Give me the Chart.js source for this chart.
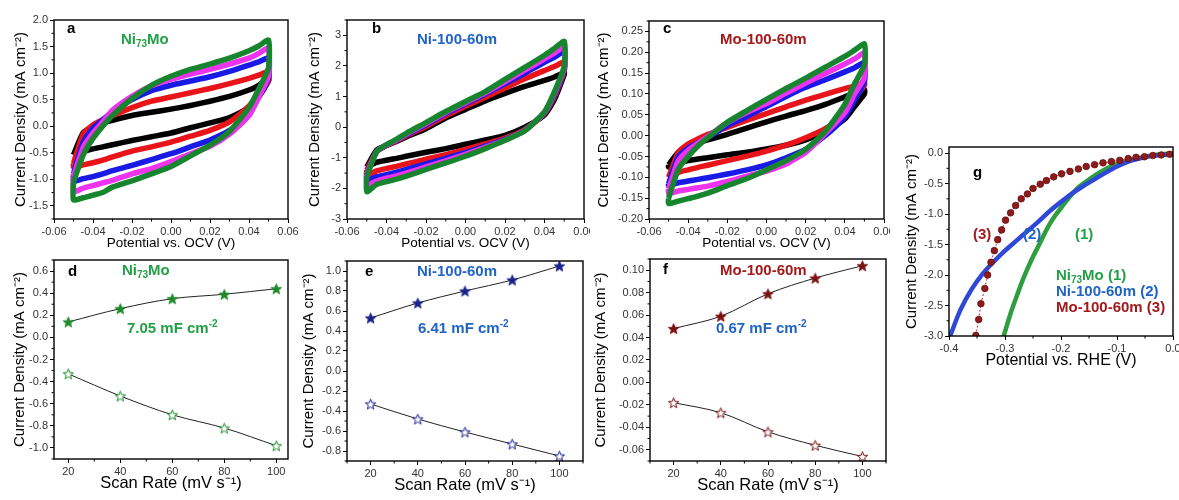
<!DOCTYPE html>
<html>
<head>
<meta charset="utf-8">
<script src="https://cdn.jsdelivr.net/npm/chart.js@4.4.0/dist/chart.umd.min.js"></script>
<style>
  body { margin: 0; background: #fff; width: 1179px; height: 500px; overflow: hidden; position: relative; }
  .panel { position: absolute; }
</style>
</head>
<body>
<div class="panel" style="left:0;top:0;width:300px;height:252px"><canvas id="chartA"></canvas></div>
<div class="panel" style="left:300px;top:0;width:290px;height:252px"><canvas id="chartB"></canvas></div>
<div class="panel" style="left:590px;top:0;width:300px;height:252px"><canvas id="chartC"></canvas></div>
<div class="panel" style="left:0;top:250px;width:300px;height:250px"><canvas id="chartD"></canvas></div>
<div class="panel" style="left:300px;top:250px;width:290px;height:250px"><canvas id="chartE"></canvas></div>
<div class="panel" style="left:590px;top:250px;width:303px;height:250px"><canvas id="chartF"></canvas></div>
<div class="panel" style="left:900px;top:130px;width:279px;height:245px"><canvas id="chartG"></canvas></div>
<script>
const FONT = "'Liberation Sans', Arial, sans-serif";

// --- CV data (a-c): potential grid, anodic branch low->high, cathodic branch high->low ---
const cvPotential = [-0.05, -0.045, -0.04, -0.035, -0.03, -0.02, -0.01, 0, 0.01, 0.02, 0.03, 0.04, 0.045, 0.05];
const scanRates = [20, 40, 60, 80, 100];
const cvColors = ['#000000', '#e8141a', '#1a1ae6', '#ee33ee', '#17852d'];

// panel a: Ni73Mo
const niMoAnodic = [
  [-0.54, -0.12, -0.01, 0.06, 0.11, 0.2, 0.26, 0.32, 0.39, 0.47, 0.56, 0.68, 0.77, 0.9],
  [-0.7, -0.15, 0.02, 0.12, 0.2, 0.35, 0.47, 0.55, 0.63, 0.71, 0.8, 0.9, 0.96, 1.03],
  [-0.9, -0.3, -0.04, 0.12, 0.27, 0.5, 0.67, 0.77, 0.85, 0.93, 1.03, 1.15, 1.21, 1.28],
  [-0.95, -0.4, -0.13, 0.08, 0.3, 0.56, 0.76, 0.88, 0.98, 1.07, 1.17, 1.28, 1.37, 1.47],
  [-1.05, -0.54, -0.23, 0.0, 0.2, 0.52, 0.77, 0.94, 1.07, 1.17, 1.28, 1.42, 1.51, 1.62]
];
const niMoCathodic = [
  [0.85, 0.55, 0.35, 0.16, 0.06, -0.03, -0.13, -0.2, -0.27, -0.35, -0.39, -0.43, -0.48, -0.54],
  [0.85, 0.6, 0.38, 0.08, -0.08, -0.19, -0.3, -0.39, -0.47, -0.58, -0.64, -0.69, -0.73, -0.77],
  [0.9, 0.55, 0.22, -0.08, -0.26, -0.39, -0.52, -0.63, -0.74, -0.84, -0.9, -0.95, -0.99, -1.04],
  [0.95, 0.55, 0.2, -0.15, -0.38, -0.52, -0.67, -0.8, -0.9, -1.02, -1.07, -1.12, -1.17, -1.23],
  [1.1, 0.7, 0.35, -0.1, -0.36, -0.56, -0.76, -0.9, -1.03, -1.15, -1.25, -1.3, -1.35, -1.39]
];

// panel b: Ni-100-60m
const niAnodic = [
  [-1.3, -0.75, -0.6, -0.47, -0.32, -0.05, 0.3, 0.58, 0.86, 1.1, 1.33, 1.53, 1.64, 1.78],
  [-1.4, -0.8, -0.6, -0.45, -0.28, 0.02, 0.37, 0.68, 0.98, 1.28, 1.58, 1.85, 1.98, 2.13],
  [-1.5, -0.8, -0.59, -0.43, -0.25, 0.08, 0.44, 0.76, 1.08, 1.42, 1.76, 2.12, 2.28, 2.46],
  [-1.55, -0.8, -0.58, -0.42, -0.23, 0.12, 0.48, 0.8, 1.12, 1.49, 1.86, 2.23, 2.42, 2.62],
  [-1.6, -0.8, -0.57, -0.4, -0.2, 0.15, 0.51, 0.84, 1.16, 1.56, 1.95, 2.35, 2.57, 2.8]
];
const niCathodic = [
  [1.72, 0.9, 0.4, 0.0, -0.27, -0.42, -0.56, -0.7, -0.82, -0.95, -1.02, -1.08, -1.15, -1.3],
  [1.85, 1.0, 0.45, -0.08, -0.36, -0.55, -0.73, -0.9, -1.05, -1.2, -1.28, -1.35, -1.43, -1.56],
  [1.9, 1.05, 0.47, -0.1, -0.4, -0.62, -0.83, -1.02, -1.2, -1.38, -1.47, -1.55, -1.62, -1.73],
  [1.95, 1.1, 0.48, -0.11, -0.42, -0.66, -0.89, -1.1, -1.3, -1.5, -1.59, -1.67, -1.76, -1.89],
  [2.0, 1.15, 0.5, -0.12, -0.43, -0.7, -0.95, -1.17, -1.38, -1.6, -1.7, -1.78, -1.87, -2.11]
];

// panel c: Mo-100-60m
const moAnodic = [
  [-0.07, -0.04, -0.025, -0.017, -0.01, 0.003, 0.018, 0.033, 0.047, 0.06, 0.075, 0.093, 0.102, 0.11],
  [-0.1, -0.04, -0.02, -0.008, 0.003, 0.02, 0.037, 0.053, 0.069, 0.085, 0.099, 0.113, 0.119, 0.127],
  [-0.115, -0.05, -0.03, -0.017, -0.005, 0.024, 0.046, 0.07, 0.094, 0.116, 0.134, 0.153, 0.163, 0.175],
  [-0.128, -0.06, -0.035, -0.018, -0.002, 0.031, 0.056, 0.077, 0.102, 0.126, 0.149, 0.172, 0.184, 0.198],
  [-0.15, -0.08, -0.05, -0.025, -0.005, 0.032, 0.06, 0.087, 0.113, 0.138, 0.164, 0.19, 0.205, 0.22]
];
const moCathodic = [
  [0.1, 0.07, 0.04, 0.01, -0.01, -0.023, -0.032, -0.04, -0.046, -0.053, -0.056, -0.06, -0.064, -0.075],
  [0.12, 0.09, 0.05, 0.017, -0.005, -0.023, -0.037, -0.049, -0.06, -0.071, -0.076, -0.082, -0.088, -0.1],
  [0.13, 0.085, 0.045, 0.0, -0.033, -0.053, -0.07, -0.082, -0.092, -0.101, -0.105, -0.109, -0.113, -0.12],
  [0.14, 0.1, 0.055, 0.005, -0.04, -0.068, -0.085, -0.097, -0.11, -0.121, -0.125, -0.129, -0.133, -0.138],
  [0.17, 0.125, 0.075, 0.01, -0.033, -0.06, -0.082, -0.103, -0.12, -0.138, -0.145, -0.151, -0.157, -0.163]
];

// --- scan rate plots (d-f) ---
const scanRateAxis = [20, 40, 60, 80, 100];
const niMoAnodicPeak = [0.14, 0.26, 0.35, 0.39, 0.44];
const niMoCathodicPeak = [-0.33, -0.53, -0.70, -0.82, -0.98];
const niAnodicPeak = [0.53, 0.68, 0.80, 0.91, 1.05];
const niCathodicPeak = [-0.33, -0.48, -0.61, -0.73, -0.85];
const moAnodicPeak = [0.048, 0.059, 0.079, 0.093, 0.104];
const moCathodicPeak = [-0.018, -0.027, -0.044, -0.056, -0.066];

// --- LSV (g) ---
const lsvNiMoPotential = [-0.303, -0.29, -0.28, -0.27, -0.26, -0.25, -0.24, -0.23, -0.22, -0.21, -0.20, -0.19, -0.18, -0.17, -0.16, -0.14, -0.12, -0.10, -0.08, -0.06, -0.04, -0.02, 0];
const lsvNiMoCurrent = [-3.02, -2.63, -2.37, -2.12, -1.9, -1.7, -1.52, -1.33, -1.16, -1.02, -0.9, -0.78, -0.67, -0.57, -0.5, -0.37, -0.26, -0.18, -0.12, -0.08, -0.045, -0.02, -0.01];
const lsvNiPotential = [-0.398, -0.38, -0.36, -0.34, -0.32, -0.30, -0.28, -0.26, -0.24, -0.22, -0.20, -0.18, -0.16, -0.14, -0.12, -0.10, -0.08, -0.06, -0.04, -0.02, 0];
const lsvNiCurrent = [-3.0, -2.58, -2.24, -1.98, -1.78, -1.6, -1.44, -1.28, -1.12, -0.95, -0.8, -0.66, -0.54, -0.43, -0.32, -0.22, -0.14, -0.09, -0.05, -0.03, -0.02];
const lsvMoPotential = [-0.352, -0.347, -0.343, -0.336, -0.331, -0.325, -0.319, -0.313, -0.306, -0.299, -0.29, -0.281, -0.271, -0.26, -0.25, -0.237, -0.226, -0.213, -0.199, -0.184, -0.169, -0.155, -0.14, -0.125, -0.11, -0.095, -0.08, -0.066, -0.051, -0.036, -0.021, -0.006];
const lsvMoCurrent = [-2.99, -2.73, -2.47, -2.22, -2.0, -1.79, -1.6, -1.42, -1.26, -1.1, -0.98, -0.86, -0.75, -0.67, -0.58, -0.51, -0.45, -0.39, -0.34, -0.3, -0.26, -0.22, -0.19, -0.16, -0.14, -0.12, -0.09, -0.07, -0.06, -0.04, -0.03, -0.02];

// tick values
const cvXTicks = [-0.06, -0.04, -0.02, 0, 0.02, 0.04, 0.06];
const aYTicks = [-1.5, -1.0, -0.5, 0, 0.5, 1.0, 1.5, 2.0];
const bYTicks = [-3, -2, -1, 0, 1, 2, 3];
const cYTicks = [-0.2, -0.15, -0.1, -0.05, 0, 0.05, 0.1, 0.15, 0.2, 0.25];
const dYTicks = [-1.0, -0.8, -0.6, -0.4, -0.2, 0, 0.2, 0.4, 0.6];
const eYTicks = [-0.8, -0.6, -0.4, -0.2, 0, 0.2, 0.4, 0.6, 0.8, 1.0];
const fYTicks = [-0.06, -0.04, -0.02, 0, 0.02, 0.04, 0.06, 0.08, 0.10];
const gXTicks = [-0.4, -0.3, -0.2, -0.1, 0];
const gYTicks = [-3.0, -2.5, -2.0, -1.5, -1.0, -0.5, 0];

const GREEN = '#23a047', BLUE = '#1f63c6', DARKRED = '#a3191c';
const Y_TITLE = 'Current Density (mA cm\u207B\u00B2)';

// text drawn on top of each panel (canvas coords), parts may be sub/superscript
const panelNotes = {
  chartA: [
    { parts: [{ t: 'a' }], x: 67, y: 33, color: '#000' },
    { parts: [{ t: 'Ni' }, { t: '73', sub: true }, { t: 'Mo' }], x: 121, y: 44, color: GREEN }
  ],
  chartB: [
    { parts: [{ t: 'b' }], x: 72, y: 33, color: '#000' },
    { parts: [{ t: 'Ni-100-60m' }], x: 117, y: 44, color: BLUE }
  ],
  chartC: [
    { parts: [{ t: 'c' }], x: 73, y: 33, color: '#000' },
    { parts: [{ t: 'Mo-100-60m' }], x: 130, y: 44, color: DARKRED }
  ],
  chartD: [
    { parts: [{ t: 'd' }], x: 68, y: 26, color: '#000' },
    { parts: [{ t: 'Ni' }, { t: '73', sub: true }, { t: 'Mo' }], x: 122, y: 25, color: GREEN },
    { parts: [{ t: '7.05 mF cm' }, { t: '-2', sup: true }], x: 127, y: 83, color: GREEN }
  ],
  chartE: [
    { parts: [{ t: 'e' }], x: 65, y: 26, color: '#000' },
    { parts: [{ t: 'Ni-100-60m' }], x: 117, y: 26, color: BLUE },
    { parts: [{ t: '6.41 mF cm' }, { t: '-2', sup: true }], x: 118, y: 83, color: BLUE }
  ],
  chartF: [
    { parts: [{ t: 'f' }], x: 73, y: 24, color: '#000' },
    { parts: [{ t: 'Mo-100-60m' }], x: 130, y: 25, color: DARKRED },
    { parts: [{ t: '0.67 mF cm' }, { t: '-2', sup: true }], x: 126, y: 83, color: BLUE }
  ],
  chartG: [
    { parts: [{ t: 'g' }], x: 73, y: 47, color: '#000' },
    { parts: [{ t: '(3)' }], x: 73, y: 109, color: DARKRED },
    { parts: [{ t: '(2)' }], x: 123, y: 109, color: BLUE },
    { parts: [{ t: '(1)' }], x: 175, y: 109, color: GREEN },
    { parts: [{ t: 'Ni' }, { t: '73', sub: true }, { t: 'Mo (1)' }], x: 156, y: 150, color: GREEN },
    { parts: [{ t: 'Ni-100-60m (2)' }], x: 156, y: 166, color: BLUE },
    { parts: [{ t: 'Mo-100-60m (3)' }], x: 156, y: 182, color: DARKRED }
  ]
};

function drawRich(ctx, note) {
  let x = note.x;
  ctx.fillStyle = note.color;
  ctx.textBaseline = 'alphabetic';
  ctx.textAlign = 'left';
  note.parts.forEach(p => {
    const small = p.sub || p.sup;
    ctx.font = `bold ${small ? 10 : 15}px ${FONT}`;
    const dy = p.sub ? 3 : (p.sup ? -6 : 0);
    ctx.fillText(p.t, x, note.y + dy);
    x += ctx.measureText(p.t).width;
  });
}

// frame, minor ticks and text notes
const decorPlugin = {
  id: 'decor',
  afterDraw(chart) {
    const ctx = chart.ctx;
    const a = chart.chartArea;
    ctx.save();
    ctx.strokeStyle = '#000';
    ctx.lineWidth = 1;
    Object.values(chart.scales).forEach(s => {
      const t = s.ticks.map(k => k.value);
      if (t.length < 2) return;
      const step = t[1] - t[0];
      for (let i = -1; i < t.length; i++) {
        const v = t[0] + step * (i + 0.5);
        if (v < s.min - 1e-9 || v > s.max + 1e-9) continue;
        const p = s.getPixelForValue(v);
        ctx.beginPath();
        if (s.isHorizontal()) { ctx.moveTo(p, a.bottom); ctx.lineTo(p, a.bottom + 2.5); }
        else { ctx.moveTo(a.left, p); ctx.lineTo(a.left - 2.5, p); }
        ctx.stroke();
      }
    });
    ctx.lineWidth = 1.4;
    ctx.strokeRect(a.left, a.top, a.right - a.left, a.bottom - a.top);
    (panelNotes[chart.canvas.id] || []).forEach(n => drawRich(ctx, n));
    ctx.restore();
  }
};
Chart.register(decorPlugin);

function makeAxis(cfg) {
  const horizontal = cfg.pos === 'bottom';
  return {
    type: 'linear',
    position: cfg.pos,
    min: cfg.min,
    max: cfg.max,
    afterBuildTicks: s => { s.ticks = cfg.ticks.map(v => ({ value: v })); },
    afterFit: s => {
      if (horizontal) { s.height = cfg.size; s.paddingLeft = 0; s.paddingRight = 0; }
      else { s.width = cfg.size; s.paddingTop = 0; s.paddingBottom = 0; }
    },
    ticks: {
      autoSkip: false, maxRotation: 0, padding: 2, color: '#333',
      font: { family: FONT, size: 11 },
      callback: v => Number(v).toFixed(cfg.dec)
    },
    grid: { drawOnChartArea: false, tickLength: 4, color: '#000', lineWidth: 1 },
    border: { display: false },
    title: { display: true, text: cfg.title, color: '#000', font: { family: FONT, size: cfg.titleSize || 15 }, padding: 0 }
  };
}

function baseOptions(padding, xAxis, yAxis) {
  return {
    responsive: true,
    maintainAspectRatio: false,
    animation: false,
    layout: { padding },
    plugins: { legend: { display: false }, tooltip: { enabled: false } },
    scales: { x: xAxis, y: yAxis }
  };
}

function loopPoints(anodic, cathodic) {
  const pts = cvPotential.map((x, i) => ({ x, y: anodic[i] }));
  cvPotential.slice().reverse().forEach((x, i) => pts.push({ x, y: cathodic[i] }));
  pts.push({ x: cvPotential[0], y: anodic[0] });
  return pts;
}

function cvChart(id, anodic, cathodic, padding, ySize, yCfg) {
  const datasets = scanRates.map((rate, i) => ({
    label: rate + ' mV/s',
    data: loopPoints(anodic[i], cathodic[i]),
    showLine: true,
    borderColor: cvColors[i],
    borderWidth: 5.5,
    pointRadius: 0,
    tension: 0.2,
    order: scanRates.length - i
  }));
  new Chart(document.getElementById(id), {
    type: 'scatter',
    data: { datasets },
    options: baseOptions(padding,
      makeAxis({ pos: 'bottom', min: -0.06, max: 0.06, ticks: cvXTicks, dec: 2, size: 32, titleSize: 13.5, title: 'Potential vs. OCV (V)' }),
      makeAxis(Object.assign({ pos: 'left', size: ySize, title: Y_TITLE }, yCfg)))
  });
}

function starImage(color, filled) {
  const c = document.createElement('canvas');
  const s = 13;
  c.width = c.height = s;
  const g = c.getContext('2d');
  g.beginPath();
  for (let i = 0; i < 10; i++) {
    const r = i % 2 === 0 ? 5.5 : 2.3;
    const ang = -Math.PI / 2 + i * Math.PI / 5;
    g.lineTo(s / 2 + r * Math.cos(ang), s / 2 + 0.6 + r * Math.sin(ang));
  }
  g.closePath();
  g.fillStyle = filled ? color : '#fff';
  g.fill();
  g.strokeStyle = color;
  g.lineWidth = 1;
  g.stroke();
  return c;
}

function rateChart(id, upper, lower, starColor, padding, ySize, yCfg) {
  const mk = (vals, filled) => ({
    data: scanRateAxis.map((x, i) => ({ x, y: vals[i] })),
    showLine: true,
    borderColor: '#222',
    borderWidth: 1,
    cubicInterpolationMode: 'monotone',
    pointStyle: starImage(starColor, filled),
    pointRadius: 6
  });
  new Chart(document.getElementById(id), {
    type: 'scatter',
    data: { datasets: [mk(upper, true), mk(lower, false)] },
    options: baseOptions(padding,
      makeAxis({ pos: 'bottom', min: yCfg.xmin, max: yCfg.xmax, ticks: scanRateAxis, dec: 0, size: 34, titleSize: 16.5, title: 'Scan Rate (mV s\u207B\u00B9)' }),
      makeAxis(Object.assign({ pos: 'left', size: ySize, title: Y_TITLE }, yCfg)))
  });
}

cvChart('chartA', niMoAnodic, niMoCathodic, { left: 12, top: 20, right: 12, bottom: 1 }, 42,
  { min: -1.75, max: 2.0, ticks: aYTicks, dec: 1 });
cvChart('chartB', niAnodic, niCathodic, { left: 6, top: 20, right: 6, bottom: 1 }, 41,
  { min: -3, max: 3.5, ticks: bYTicks, dec: 0 });
cvChart('chartC', moAnodic, moCathodic, { left: 4.5, top: 21, right: 6, bottom: 1 }, 54.5,
  { min: -0.2, max: 0.275, ticks: cYTicks, dec: 2 });

rateChart('chartD', niMoAnodicPeak, niMoCathodicPeak, '#1e8a2a', { left: 11, top: 10, right: 12, bottom: 7 }, 43,
  { min: -1.1, max: 0.7, ticks: dYTicks, dec: 1, xmin: 14.5, xmax: 104.5 });
rateChart('chartE', niAnodicPeak, niCathodicPeak, '#18208c', { left: 0, top: 11, right: 6, bottom: 5 }, 47,
  { min: -0.9, max: 1.1, ticks: eYTicks, dec: 1, xmin: 10, xmax: 110 });
rateChart('chartF', moAnodicPeak, moCathodicPeak, '#7a1010', { left: 2, top: 9, right: 6, bottom: 5 }, 58,
  { min: -0.07, max: 0.11, ticks: fYTicks, dec: 2, xmin: 10, xmax: 110 });

// LSV panel
new Chart(document.getElementById('chartG'), {
  type: 'scatter',
  data: {
    datasets: [
      {
        data: lsvMoPotential.map((x, i) => ({ x, y: lsvMoCurrent[i] })),
        showLine: true, borderColor: '#b03030', borderWidth: 1, borderDash: [2, 2],
        pointRadius: 3.3, pointBackgroundColor: '#8e1b1b', pointBorderColor: '#6a0f0f', pointBorderWidth: 0.8,
        order: 1
      },
      {
        data: lsvNiPotential.map((x, i) => ({ x, y: lsvNiCurrent[i] })),
        showLine: true, borderColor: '#3048d8', borderWidth: 4.5, pointRadius: 0, tension: 0.3, order: 2
      },
      {
        data: lsvNiMoPotential.map((x, i) => ({ x, y: lsvNiMoCurrent[i] })),
        showLine: true, borderColor: '#2e9e3e', borderWidth: 4.5, pointRadius: 0, tension: 0.3, order: 3
      }
    ]
  },
  options: baseOptions({ left: 3, top: 17, right: 6, bottom: 5 },
    makeAxis({ pos: 'bottom', min: -0.4, max: 0, ticks: gXTicks, dec: 1, size: 34, titleSize: 16, title: 'Potential vs. RHE (V)' }),
    makeAxis({ pos: 'left', min: -3.0, max: 0.1, ticks: gYTicks, dec: 1, size: 46, title: Y_TITLE }))
});
</script>
</body>
</html>
